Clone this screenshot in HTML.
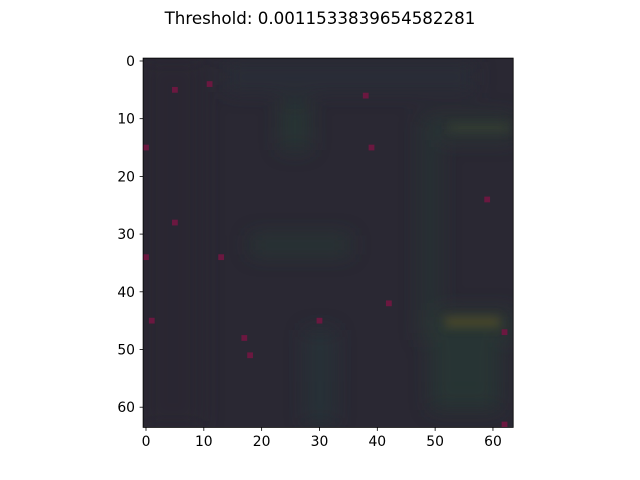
<!DOCTYPE html>
<html><head><meta charset="utf-8"><style>
body{margin:0;background:#fff;}
svg{display:block;font-family:"DejaVu Sans","Liberation Sans",sans-serif;}
</style></head><body>
<svg id="chart" width="640" height="480" viewBox="0 0 640 480" xmlns="http://www.w3.org/2000/svg">
<defs>
<filter id="blur" x="-50%" y="-50%" width="200%" height="200%"><feGaussianBlur stdDeviation="10"/></filter>
<filter id="blur2" x="-50%" y="-50%" width="200%" height="200%"><feGaussianBlur stdDeviation="5"/></filter>
<clipPath id="clip"><rect x="143.1" y="58.1" width="370.1" height="369.3"/></clipPath>
</defs>
<text x="320" y="24" text-anchor="middle" font-size="16.7">Threshold: 0.0011533839654582281</text>
<g id="img" clip-path="url(#clip)">
<rect x="143.1" y="58.1" width="370.1" height="369.3" fill="#2a2833"/>
<g filter="url(#blur)" opacity="0.6">
<rect x="225" y="62" width="250" height="30" fill="#2c333a"/>
<rect x="280" y="100" width="30" height="50" fill="#263c36"/>
<rect x="420" y="115" width="95" height="25" fill="#2a3c36"/>
<rect x="420" y="120" width="20" height="200" fill="#273834"/>
<rect x="250" y="235" width="100" height="20" fill="#263c36"/>
<rect x="420" y="310" width="95" height="30" fill="#2b3d36"/>
<rect x="430" y="330" width="70" height="80" fill="#253c36"/>
<rect x="305" y="330" width="30" height="95" fill="#27383a"/>
<rect x="143" y="58" width="60" height="370" fill="#2c2830"/>
</g>
<g filter="url(#blur2)" opacity="0.7">
<rect x="450" y="124" width="60" height="7" fill="#3a4430"/>
<rect x="445" y="317" width="55" height="10" fill="#5a5226"/>
</g>
</g>
<g id="dots"></g>
<rect x="143.1" y="58.1" width="370.1" height="369.3" fill="none" stroke="#000" stroke-width="0.8"/>
<g id="xticks"></g><g id="yticks"></g>
</svg>
<script>
const dotCols=[5,11,38,0,39,59,5,0,13,42,1,30,17,18,62,62];
const dotRows=[5,4,6,15,15,24,28,34,34,42,45,45,48,51,47,63];
const xTickLabels=[0,10,20,30,40,50,60];
const yTickLabels=[0,10,20,30,40,50,60];
const NS="http://www.w3.org/2000/svg";
const L=143.1,T=58.1,CW=370.1/64,CH=369.3/64;
const sx=v=>L+(v+0.5)*CW, sy=v=>T+(v+0.5)*CH;
function mk(t,a,p){const e=document.createElementNS(NS,t);for(const k in a)e.setAttribute(k,a[k]);p.appendChild(e);return e;}
const dots=document.getElementById('dots');
dotCols.forEach((c,i)=>{
 const r=mk('rect',{x:sx(c)-CW/2,y:sy(dotRows[i])-CH/2,width:CW,height:CH,fill:'#6b1840'},dots);
 
 
});
const xt=document.getElementById('xticks');
xTickLabels.forEach(v=>{
 const x=sx(v);
 const l=mk('line',{x1:x,x2:x,y1:427.4,y2:430.9,stroke:'#000','stroke-width':0.8},xt);
 
 
 const t=mk('text',{x:x,y:446,'text-anchor':'middle','font-size':13.9},xt);
 t.textContent=v;
 
 
});
const yt=document.getElementById('yticks');
yTickLabels.forEach(v=>{
 const y=sy(v);
 const l=mk('line',{x1:139.6,x2:143.1,y1:y,y2:y,stroke:'#000','stroke-width':0.8},yt);
 
 
 const t=mk('text',{x:135,y:y+5,'text-anchor':'end','font-size':13.9},yt);
 t.textContent=v;
 
 
});
</script>
</body></html>
